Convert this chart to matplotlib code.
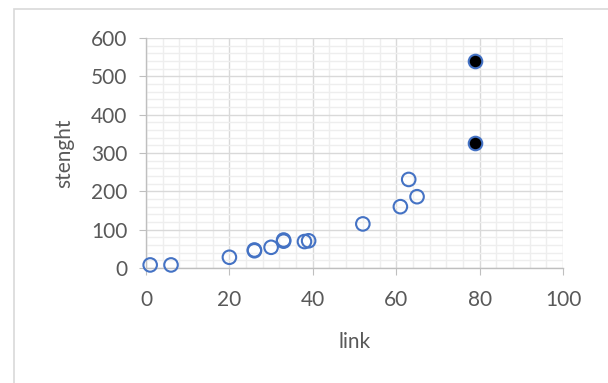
import matplotlib
matplotlib.use("Agg")
import matplotlib.pyplot as plt
from matplotlib.patches import Rectangle
from matplotlib.ticker import MultipleLocator

link_open = [1, 6, 20, 26, 26, 30, 33, 33, 38, 39, 52, 61, 63, 65]
strength_open = [8, 8, 28, 45, 47, 54, 70, 73, 69, 71, 115, 160, 231, 186]
link_filled = [79, 79]
strength_filled = [540, 327]
x_ticks = [0, 20, 40, 60, 80, 100]
y_ticks = [0, 100, 200, 300, 400, 500, 600]

plt.rcParams['font.family'] = ['Lato', 'DejaVu Sans']
txt = '#595959'

fig = plt.figure(figsize=(6.08, 3.83), dpi=100)
fig.patches.append(Rectangle((14/608, -0.5), 2, 1.5 - 9/383, transform=fig.transFigure,
                             fill=False, edgecolor='#d9d9d9', linewidth=1.2))
ax = fig.add_axes([146/608, 1 - 268/383, (563-146)/608, (268-38)/383])

ax.scatter(link_open, strength_open, s=95, facecolors='none', edgecolors='#4472C4',
           linewidths=1.5, zorder=3, clip_on=False)
ax.scatter(link_filled, strength_filled, s=95, facecolors='black', edgecolors='#4472C4',
           linewidths=1.5, zorder=3, clip_on=False)

ax.set_xlim(0, 100)
ax.set_ylim(0, 600)
ax.set_xticks(x_ticks)
ax.set_yticks(y_ticks)
ax.xaxis.set_minor_locator(MultipleLocator(4))
ax.yaxis.set_minor_locator(MultipleLocator(20))
ax.grid(which='major', color='#d9d9d9', linewidth=1.0, zorder=1)
ax.grid(which='minor', color='#eeeeee', linewidth=1.0, zorder=0)
ax.set_axisbelow(True)
for s in ['top', 'right']:
    ax.spines[s].set_visible(False)
for s in ['left', 'bottom']:
    ax.spines[s].set_color('#bfbfbf')
    ax.spines[s].set_linewidth(1.0)
ax.tick_params(which='major', length=5, color='#bfbfbf', labelsize=15, labelcolor=txt)
ax.tick_params(axis='x', which='major', pad=11)
ax.tick_params(axis='y', which='major', pad=8.5)
ax.tick_params(which='minor', length=0)
ax.set_xlabel('link', fontsize=15, color=txt, labelpad=16)
ax.set_ylabel('stenght', fontsize=15, color=txt, labelpad=12)

fig.savefig('out.png', dpi=100)
